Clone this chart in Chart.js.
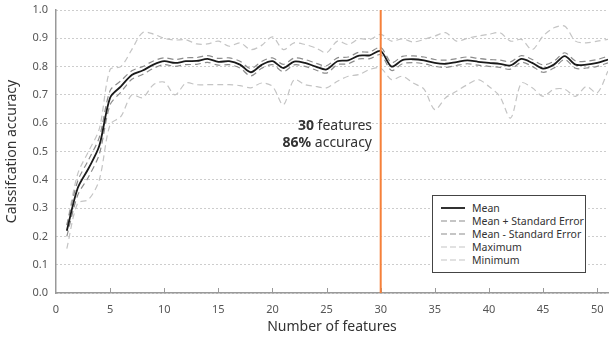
<!DOCTYPE html>
<html lang="en">
<head>
<meta charset="UTF-8"/>
<title>Classification accuracy by number of features</title>
<script src="https://cdn.jsdelivr.net/npm/chart.js"></script>
<style>
  html, body { margin: 0; padding: 0; background: #fff; }
  #wrap { position: relative; width: 613px; height: 339px; font-family: "Noto Sans", sans-serif; }
  #chart { display: block; }
  #note {
    position: absolute; right: 241px; top: 116px;
    text-align: right; font-size: 14px; line-height: 17px; color: #333;
  }
  #note b { font-weight: bold; }
  #legend {
    position: absolute; left: 432px; top: 195px; width: 154px; height: 78px;
    border: 1px solid #444; background: #fff; box-sizing: border-box;
    padding: 5px 0 0 8px; font-size: 10.5px; color: #333; white-space: nowrap;
  }
  #legend .row { display: flex; align-items: center; height: 13px; }
  #legend svg { width: 24px; height: 6px; margin-right: 7px; flex: none; }
</style>
</head>
<body>
<div id="wrap">
  <canvas id="chart" width="613" height="339"></canvas>
  <div id="note"><b>30</b> features<br/><b>86%</b> accuracy</div>
  <div id="legend"></div>
</div>
<script>
const features = [1,2,3,4,5,6,7,8,9,10,11,12,13,14,15,16,17,18,19,20,21,22,23,24,25,
  26,27,28,29,30,31,32,33,34,35,36,37,38,39,40,41,42,43,44,45,46,47,48,49,50,51];
const xTicks = [0,5,10,15,20,25,30,35,40,45,50];

const mean = [0.22,0.37,0.44,0.52,0.69,0.73,0.77,0.786,0.807,0.819,0.813,0.819,0.82,0.827,0.817,
  0.819,0.807,0.78,0.806,0.819,0.795,0.818,0.813,0.80,0.79,0.819,0.822,0.839,0.84,0.855,
  0.80,0.823,0.826,0.822,0.813,0.81,0.816,0.822,0.817,0.813,0.81,0.804,0.827,0.813,0.793,
  0.807,0.837,0.807,0.807,0.813,0.825];

const meanPlusSE = [0.24,0.395,0.47,0.55,0.715,0.75,0.785,0.80,0.82,0.831,0.825,0.831,0.832,0.839,0.829,
  0.831,0.819,0.793,0.818,0.831,0.808,0.83,0.825,0.812,0.803,0.831,0.834,0.851,0.852,0.868,
  0.814,0.836,0.838,0.834,0.825,0.823,0.828,0.834,0.829,0.825,0.823,0.817,0.839,0.825,0.806,
  0.819,0.849,0.82,0.819,0.825,0.837];

const meanMinusSE = [0.20,0.345,0.41,0.49,0.665,0.71,0.755,0.772,0.794,0.807,0.801,0.807,0.808,0.815,0.805,
  0.807,0.795,0.767,0.794,0.807,0.782,0.806,0.801,0.788,0.777,0.807,0.81,0.827,0.828,0.842,
  0.786,0.81,0.814,0.81,0.801,0.797,0.804,0.81,0.805,0.801,0.797,0.791,0.815,0.801,0.78,
  0.795,0.825,0.794,0.795,0.801,0.813];

const maximum = [0.24,0.42,0.50,0.58,0.79,0.80,0.86,0.92,0.915,0.90,0.894,0.895,0.88,0.88,0.89,
  0.872,0.884,0.86,0.875,0.905,0.86,0.884,0.878,0.866,0.849,0.89,0.878,0.898,0.896,0.914,
  0.89,0.898,0.887,0.896,0.908,0.92,0.89,0.90,0.908,0.914,0.92,0.89,0.896,0.86,0.908,
  0.937,0.943,0.89,0.884,0.89,0.896];

const minimum = [0.157,0.317,0.33,0.40,0.595,0.624,0.70,0.69,0.736,0.745,0.70,0.742,0.736,0.736,0.736,
  0.736,0.733,0.725,0.742,0.73,0.665,0.754,0.736,0.73,0.725,0.748,0.766,0.772,0.79,0.795,
  0.754,0.766,0.742,0.72,0.648,0.69,0.713,0.736,0.754,0.73,0.695,0.618,0.742,0.725,0.695,
  0.72,0.72,0.695,0.73,0.707,0.784];

const seriesLabels = ['Mean', 'Mean + Standard Error', 'Mean - Standard Error', 'Maximum', 'Minimum'];
const bestFeatures = 30;

const pts = arr => arr.map((v, i) => ({ x: features[i], y: v }));

const styles = [
  { color: '#1a1a1a', width: 1.8, dash: [] },
  { color: '#8c8c8c', width: 1.2, dash: [6, 4] },
  { color: '#8c8c8c', width: 1.2, dash: [6, 4] },
  { color: '#c4c4c4', width: 1.2, dash: [6, 4] },
  { color: '#c4c4c4', width: 1.2, dash: [6, 4] }
];
const series = [mean, meanPlusSE, meanMinusSE, maximum, minimum];

const datasets = series.map((s, i) => ({
  label: seriesLabels[i],
  data: pts(s),
  borderColor: styles[i].color,
  borderWidth: styles[i].width,
  borderDash: styles[i].dash,
  pointRadius: 0,
  tension: 0.3,
  fill: false
}));

// legend
const legend = document.getElementById('legend');
styles.forEach((st, i) => {
  const row = document.createElement('div');
  row.className = 'row';
  row.innerHTML = '<svg viewBox="0 0 24 6"><line x1="0" y1="3" x2="24" y2="3" stroke="' + st.color +
    '" stroke-width="' + st.width + '" stroke-dasharray="' + (st.dash.length ? '6 3' : 'none') + '"/></svg>' +
    '<span>' + seriesLabels[i] + '</span>';
  legend.appendChild(row);
});

const extras = {
  id: 'extras',
  afterDatasetsDraw(chart) {
    const { ctx, chartArea, scales: { x } } = chart;
    ctx.save();
    // inside tick marks on x axis
    ctx.strokeStyle = '#999';
    ctx.lineWidth = 1;
    for (let v = 5; v <= 50; v += 5) {
      const px = Math.round(x.getPixelForValue(v)) + 0.5;
      ctx.beginPath();
      ctx.moveTo(px, chartArea.bottom);
      ctx.lineTo(px, chartArea.bottom - 5);
      ctx.stroke();
    }
    // best feature count marker
    const bx = x.getPixelForValue(bestFeatures);
    ctx.strokeStyle = '#f5803a';
    ctx.lineWidth = 2;
    ctx.beginPath();
    ctx.moveTo(bx, chartArea.top);
    ctx.lineTo(bx, chartArea.bottom);
    ctx.stroke();
    ctx.restore();
  }
};

new Chart(document.getElementById('chart'), {
  type: 'line',
  data: { datasets },
  plugins: [extras],
  options: {
    responsive: false,
    animation: false,
    layout: { padding: { top: 10, right: 5, left: 4, bottom: 0 } },
    plugins: { legend: { display: false }, tooltip: { enabled: false } },
    scales: {
      x: {
        type: 'linear',
        min: 0,
        max: 51,
        afterBuildTicks: s => { s.ticks = xTicks.map(v => ({ value: v })); },
        afterFit: s => { s.height = 46; },
        grid: { display: false },
        border: { color: '#999', width: 1.5 },
        ticks: { color: '#555', font: { family: 'Noto Sans', size: 11 }, padding: 2, maxRotation: 0, autoSkip: false },
        title: { display: true, text: 'Number of features', color: '#333', font: { family: 'Noto Sans', size: 14 }, padding: { top: 2 } }
      },
      y: {
        min: 0,
        max: 1,
        afterFit: s => { s.width = 52; s.paddingTop = 0; s.paddingBottom = 0; },
        grid: { color: '#9a9a9a', lineWidth: 1, drawTicks: false },
        border: { color: '#999', width: 1.5, dash: [1, 3] },
        ticks: {
          stepSize: 0.1, color: '#555', padding: 8,
          font: { family: 'Noto Sans', size: 11 },
          callback: v => v.toFixed(1)
        },
        title: { display: true, text: 'Calssifcation accuracy', color: '#333', font: { family: 'Noto Sans', size: 14 }, padding: 0 }
      }
    }
  }
});
</script>
</body>
</html>
